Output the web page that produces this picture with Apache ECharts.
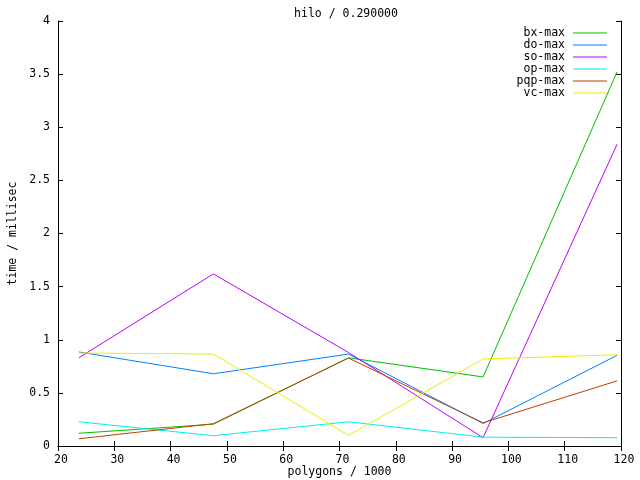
<!DOCTYPE html>
<html>
<head>
<meta charset="utf-8">
<script src="https://cdn.jsdelivr.net/npm/echarts@6/dist/echarts.min.js"></script>
<style>html,body{margin:0;padding:0;background:#fff}#c{width:640px;height:480px}</style>
</head>
<body>
<div id="c"></div>
<script>
var polygons = [23.7, 47.6, 71.6, 95.5, 119.3];
var seriesNames = ['bx-max', 'do-max', 'so-max', 'op-max', 'pqp-max', 'vc-max'];
var bxMax  = [0.12, 0.205, 0.83, 0.65, 3.52];
var doMax  = [0.885, 0.68, 0.865, 0.212, 0.853];
var soMax  = [0.83, 1.62, 0.88, 0.078, 2.84];
var opMax  = [0.228, 0.097, 0.228, 0.083, 0.078];
var pqpMax = [0.068, 0.21, 0.828, 0.218, 0.613];
var vcMax  = [0.875, 0.866, 0.10, 0.819, 0.859];
var colors = ['#00c000', '#0080ff', '#c000ff', '#00eeee', '#c04000', '#eeee00'];
var allValues = [bxMax, doMax, soMax, opMax, pqpMax, vcMax];

var FONT = 'DejaVu Sans Mono';
var FS = 11.5;

function pairs(vals) {
  return polygons.map(function (x, i) { return [x, vals[i]]; });
}

var series = seriesNames.map(function (n, i) {
  return {
    name: n, type: 'line', data: pairs(allValues[i]),
    xAxisIndex: 0, yAxisIndex: 0,
    showSymbol: false, symbol: 'none',
    lineStyle: { color: colors[i], width: 1 },
    itemStyle: { color: colors[i] },
    animation: false
  };
});

var legends = seriesNames.map(function (n, i) {
  return {
    data: [{ name: n, icon: 'rect', itemStyle: { color: colors[i] } }],
    orient: 'vertical', align: 'right',
    right: 33, top: 27 + i * 12, padding: 0,
    itemWidth: 34, itemHeight: 1,
    textStyle: { fontFamily: FONT, fontSize: FS, color: '#000', lineHeight: 12, padding: [0, 3, 0, 0] },
    selectedMode: false
  };
});

var axisLine = { show: true, lineStyle: { color: '#000', width: 1 } };
var tick = { show: true, inside: true, length: 5, lineStyle: { color: '#000', width: 1 } };
var lbl = { fontFamily: FONT, fontSize: FS, color: '#000' };

var option = {
  backgroundColor: '#fff',
  animation: false,
  title: {
    text: 'hilo / 0.290000', left: 341, top: 3, textAlign: 'center',
    textStyle: { fontFamily: FONT, fontSize: FS, fontWeight: 'normal', color: '#000' }
  },
  legend: legends,
  grid: { left: 58, right: 19, top: 21, bottom: 34, containLabel: false, outerBoundsMode: 'none' },
  xAxis: [
    { type: 'value', min: 20, max: 120, interval: 10, position: 'bottom',
      axisLine: axisLine, axisTick: tick, splitLine: { show: false },
      axisLabel: Object.assign({ margin: 8, padding: [0, 0, 0, 6] }, lbl),
      name: 'polygons / 1000', nameLocation: 'middle', nameGap: 20, nameMoveOverlap: false,
      nameTextStyle: lbl },
    { type: 'value', min: 20, max: 120, interval: 10, position: 'top',
      axisLine: axisLine, axisTick: tick, splitLine: { show: false },
      axisLabel: { show: false } }
  ],
  yAxis: [
    { type: 'value', min: 0, max: 4, interval: 0.5, position: 'left',
      axisLine: axisLine, axisTick: tick, splitLine: { show: false },
      axisLabel: Object.assign({ margin: 8 }, lbl),
      name: 'time / millisec', nameLocation: 'middle', nameGap: 39, nameMoveOverlap: false, nameRotate: 90,
      nameTextStyle: lbl },
    { type: 'value', min: 0, max: 4, interval: 0.5, position: 'right',
      axisLine: axisLine, axisTick: tick, splitLine: { show: false },
      axisLabel: { show: false } }
  ],
  series: series
};

var chart = echarts.init(document.getElementById('c'), null, { renderer: 'canvas' });
chart.setOption(option);
</script>
</body>
</html>
